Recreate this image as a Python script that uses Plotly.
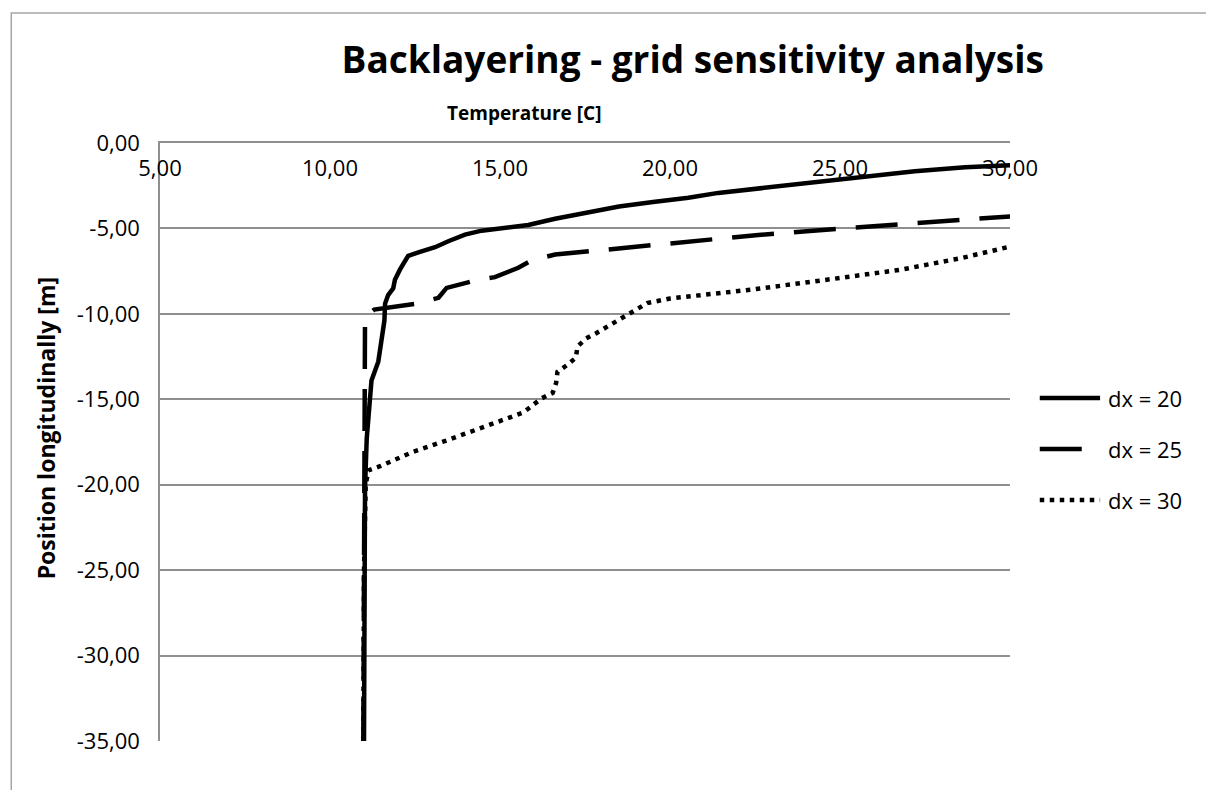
import plotly.graph_objects as go

# Temperature [C] (x) vs position longitudinally [m] (y)
dx20_temp = [11.00, 11.01, 11.02, 11.03, 11.08, 11.15, 11.22, 11.42, 11.52, 11.60, 11.62, 11.71,
             11.86, 11.91, 12.06, 12.30, 12.60, 13.09, 13.48, 13.97, 14.46, 15.00, 15.83, 16.62,
             17.60, 18.50, 19.50, 20.54, 21.42, 22.60, 24.26, 25.54, 27.20, 28.68, 30.05]
dx20_pos = [-35.0, -30.0, -25.0, -20.2, -17.3, -15.3, -13.9, -12.8, -11.6, -10.4, -9.4, -8.9,
            -8.5, -8.0, -7.4, -6.6, -6.4, -6.1, -5.75, -5.36, -5.13, -4.98, -4.80, -4.43,
            -4.09, -3.72, -3.45, -3.20, -2.92, -2.67, -2.34, -2.05, -1.66, -1.42, -1.30]

dx25_temp = [10.98, 10.99, 11.00, 11.01, 11.02, 11.03, 11.30, 12.55, 13.19, 13.43, 14.26, 14.85,
             15.54, 15.95, 16.62, 17.79, 19.66, 21.52, 22.60, 25.24, 27.20, 30.05]
dx25_pos = [-35.0, -25.0, -20.6, -16.8, -14.4, -10.2, -9.75, -9.40, -9.06, -8.48, -8.05, -7.85,
            -7.30, -6.85, -6.53, -6.30, -5.98, -5.56, -5.38, -4.97, -4.68, -4.29]

dx30_temp = [10.98, 11.00, 11.05, 11.13, 11.49, 12.45, 13.43, 14.41, 15.05, 15.69, 16.22, 16.55,
             16.65, 16.69, 16.97, 17.23, 17.28, 17.53, 17.83, 18.43, 19.03, 19.33, 20.00, 22.40,
             24.85, 26.81, 28.58, 30.05]
dx30_pos = [-35.0, -25.0, -20.0, -19.16, -18.90, -18.07, -17.41, -16.70, -16.24, -15.77, -14.95, -14.62,
            -14.04, -13.39, -13.00, -12.57, -11.91, -11.44, -11.13, -10.43, -9.73, -9.37, -9.10, -8.58,
            -7.94, -7.41, -6.73, -6.04]

series_names = ["dx = 20", "dx = 25", "dx = 30"]
series_dash = ["solid", "42px,20px", "4.5px,5.5px"]

x_ticks = [5, 10, 15, 20, 25, 30]
y_ticks = [0, -5, -10, -15, -20, -25, -30, -35]


def fmt(v):
    return f"{v:.2f}".replace(".", ",")


FONT = "Open Sans"
GRID = "#8f8f8f"

fig = go.Figure()
data = [(dx20_temp, dx20_pos), (dx25_temp, dx25_pos), (dx30_temp, dx30_pos)]
for (xs, ys), name, dash in zip(data, series_names, series_dash):
    fig.add_trace(go.Scatter(
        x=xs, y=ys, mode="lines", name=name,
        line=dict(color="black", width=4.5, dash=dash),
        showlegend=False,
    ))

# hand-built legend so the line samples are long like the original
leg_y = [0.5736, 0.4883, 0.403]
for name, dash, ly in zip(series_names, series_dash, leg_y):
    fig.add_shape(type="line", xref="paper", yref="paper", x0=1.035, x1=1.106, y0=ly, y1=ly,
                  line=dict(color="black", width=4.5, dash=dash))
    fig.add_annotation(text=name, xref="paper", yref="paper", x=1.113, y=ly,
                       xanchor="left", yanchor="middle", showarrow=False,
                       font=dict(family=FONT, size=22, color="black"))

# outer chart-area border
fig.add_shape(type="rect", xref="paper", yref="paper", x0=-0.175, x1=1.241, y0=-0.12, y1=1.2174,
              line=dict(color="#a6a6a6", width=1.5), layer="below")

fig.add_annotation(text="<b>Temperature [C]</b>", xref="paper", yref="paper", x=0.428, y=1.05,
                   xanchor="center", yanchor="middle", showarrow=False,
                   font=dict(family=FONT, size=19, color="black"))
fig.add_annotation(text="<b>Position longitudinally [m]</b>", xref="paper", yref="paper",
                   x=-0.134, y=0.523, textangle=-90, xanchor="center", yanchor="middle",
                   showarrow=False, font=dict(family=FONT, size=23, color="black"))

fig.update_layout(
    width=1214, height=790,
    margin=dict(l=152, r=212, t=135, b=57),
    paper_bgcolor="white", plot_bgcolor="white",
    title=dict(text="<b>Backlayering - grid sensitivity analysis</b>", x=0.564, y=0.934,
               xref="container", yref="container", xanchor="center", yanchor="middle",
               font=dict(family=FONT, size=37, color="black")),
    font=dict(family=FONT, color="black"),
)
fig.update_xaxes(
    range=[5, 30], side="top", tickvals=x_ticks, ticktext=[fmt(v) for v in x_ticks],
    ticklabelposition="inside", ticklabeloverflow="allow", ticklabelstandoff=19,
    showgrid=False, zeroline=False, showline=True, linecolor=GRID, linewidth=1.5,
    ticks="", tickfont=dict(family=FONT, size=22, color="black"),
)
fig.update_yaxes(
    range=[-35, 0], tickvals=y_ticks, ticktext=[fmt(v) for v in y_ticks],
    showgrid=True, gridcolor=GRID, gridwidth=1.5, zeroline=False,
    showline=True, linecolor=GRID, linewidth=1.5, ticks="", ticklabelstandoff=14,
    tickfont=dict(family=FONT, size=22, color="black"),
)

fig.write_html("out.html")
